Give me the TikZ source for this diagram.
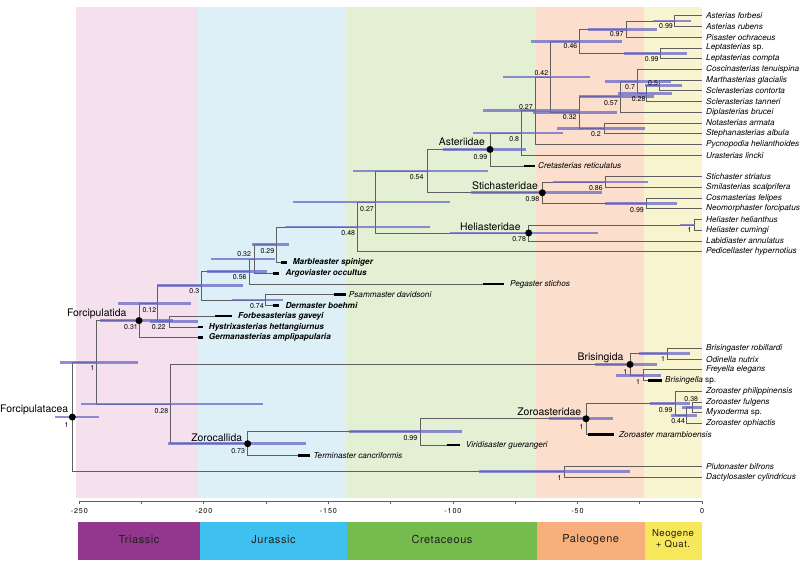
\documentclass[tikz,border=0pt]{standalone}
\usepackage{fontspec}
\setmainfont{TeX Gyre Heros}
\newfontfamily\axfont[LetterSpace=12]{TeX Gyre Heros}
\newfontfamily\perfont[LetterSpace=5]{TeX Gyre Heros}
\usetikzlibrary{calc}
\definecolor{bTri}{RGB}{245,225,238}
\definecolor{bJur}{RGB}{221,239,247}
\definecolor{bCre}{RGB}{227,240,212}
\definecolor{bPal}{RGB}{252,222,204}
\definecolor{bNeo}{RGB}{249,244,208}
\definecolor{pTri}{RGB}{147,54,142}
\definecolor{pJur}{RGB}{62,193,238}
\definecolor{pCre}{RGB}{117,187,78}
\definecolor{pPal}{RGB}{247,176,123}
\definecolor{pNeo}{RGB}{246,232,90}
\definecolor{linec}{RGB}{95,95,95}
\definecolor{hpdc}{RGB}{105,105,200}
\newcommand\tipf{\fontsize{8.2}{9}\selectfont\itshape}
\newcommand\ftipf{\fontsize{8.2}{9}\selectfont\bfseries\itshape}
\newcommand\nlf{\fontsize{7}{8}\selectfont}
\newcommand\cladef{\fontsize{10.4}{12}\selectfont}
\tikzset{
  br/.style={draw=linec, line width=0.8pt},
  hpd/.style={draw=hpdc, line width=2.8pt, draw opacity=0.75},
  fos/.style={draw=black, line width=2.6pt},
  tip/.style={anchor=west, inner sep=0pt, font=\tipf},
  ftip/.style={anchor=west, inner sep=0pt, font=\ftipf},
  nl/.style={anchor=east, inner sep=0pt, font=\nlf},
  clade/.style={inner sep=0pt, font=\cladef},
  dot/.style={circle, fill=black, inner sep=0pt, minimum size=7pt},
  axl/.style={inner sep=0pt, font=\fontsize{7.2}{8}\axfont},
  perl/.style={inner sep=0pt, align=center, font=\fontsize{11}{11.5}\perfont, text=black!88},
}
\begin{document}
\begin{tikzpicture}[x=1pt,y=-1pt]
\useasboundingbox (0,0) rectangle (800,560);
% period bands
\fill[bTri] (76,7) rectangle (197.5,498);
\fill[bJur] (197.5,7) rectangle (346,498);
\fill[bCre] (346,7) rectangle (536,498);
\fill[bPal] (536,7) rectangle (643.5,498);
\fill[bNeo] (643.5,7) rectangle (702,498);
% period boxes
\fill[pTri] (78,522) rectangle (200,560);
\fill[pJur] (200,522) rectangle (347,560);
\fill[pCre] (347,522) rectangle (537,560);
\fill[pPal] (537,522) rectangle (644.5,560);
\fill[pNeo] (644.5,522) rectangle (702,560);
\node[perl] (perTri) at (139,539.5) {Triassic};
\node[perl] (perJur) at (273.5,539.5) {Jurassic};
\node[perl] (perCre) at (442,539.5) {Cretaceous};
\node[perl] (perPal) at (590.7,539.5) {Paleogene};
\node[perl, font=\fontsize{9.6}{11}\perfont] (perNeo) at (673,539) {Neogene\\+ Quat.};
% axis
\draw[linec, line width=0.8pt] (79.3,501) -- (702,501);
\foreach \k in {0,...,10} \draw[linec, line width=0.8pt] ({702-62.27*\k},501) -- ++(0,3);
\foreach \t in {250,200,150,100,50} \node[axl] (ax\t) at ({702-2.4908*\t},510.5) {-\t};
\node[axl] (ax0) at (702,510.5) {0};

% tips (extant)
\coordinate (t1) at (702,15.7);
\coordinate (t2) at (702,26.4);
\coordinate (t3) at (702,37.2);
\coordinate (t4) at (702,47.9);
\coordinate (t5) at (702,58.6);
\coordinate (t6) at (702,69.4);
\coordinate (t7) at (702,80.1);
\coordinate (t8) at (702,90.8);
\coordinate (t9) at (702,101.5);
\coordinate (t10) at (702,112.3);
\coordinate (t11) at (702,123.0);
\coordinate (t12) at (702,133.7);
\coordinate (t13) at (702,144.5);
\coordinate (t14) at (702,155.2);
\coordinate (t16) at (702,176.7);
\coordinate (t17) at (702,187.4);
\coordinate (t18) at (702,198.1);
\coordinate (t19) at (702,208.8);
\coordinate (t20) at (702,219.6);
\coordinate (t21) at (702,230.3);
\coordinate (t22) at (702,241.0);
\coordinate (t23) at (702,251.8);
\coordinate (t32) at (702,348.3);
\coordinate (t33) at (702,359.1);
\coordinate (t34) at (702,369.8);
\coordinate (t36) at (702,391.3);
\coordinate (t37) at (702,402.0);
\coordinate (t38) at (702,412.7);
\coordinate (t39) at (702,423.4);
\coordinate (t43) at (702,466.4);
\coordinate (t44) at (702,477.1);
% fossil tips (bar start / end)
\coordinate (f15s) at (523.5,165.9); \coordinate (f15e) at (535,165.9);
\coordinate (f24s) at (281,262.5);   \coordinate (f24e) at (287.3,262.5);
\coordinate (f25s) at (273.3,273.2); \coordinate (f25e) at (279.3,273.2);
\coordinate (f26s) at (483.3,284.0); \coordinate (f26e) at (504,284.0);
\coordinate (f27s) at (334.3,294.7); \coordinate (f27e) at (346,294.7);
\coordinate (f28s) at (273.3,305.4); \coordinate (f28e) at (279.3,305.4);
\coordinate (f29s) at (215.3,316.1); \coordinate (f29e) at (231.7,316.1);
\coordinate (f30s) at (198.3,326.9); \coordinate (f30e) at (203.3,326.9);
\coordinate (f31s) at (198.3,337.6); \coordinate (f31e) at (203.3,337.6);
\coordinate (f35s) at (648.3,380.5); \coordinate (f35e) at (661.7,380.5);
\coordinate (f40s) at (588.3,434.2); \coordinate (f40e) at (614,434.2);
\coordinate (f41s) at (446.7,444.9); \coordinate (f41e) at (460,444.9);
\coordinate (f42s) at (298.3,455.6); \coordinate (f42e) at (310,455.6);

% internal nodes
\coordinate (nA1) at (674.3,21.05);
\coordinate (nA2) at (626,29.13);
\coordinate (nA3) at (660.3,53.25);
\coordinate (n046) at (579.3,41.19);
\coordinate (n05) at (659.3,85.45);
\coordinate (n028) at (646.7,93.48);
\coordinate (n07) at (637.3,81.44);
\coordinate (n057) at (620.7,96.87);
\coordinate (n02) at (604,128.35);
\coordinate (n032u) at (579,112.61);
\coordinate (n042) at (550,76.9);
\coordinate (n027u) at (535.7,110.7);
\coordinate (n08) at (521.3,132.95);
\coordinate (nAst) at (490,149.43);
\coordinate (n086) at (605.7,182.05);
\coordinate (n099s) at (646,203.45);
\coordinate (nSti) at (542.3,192.75);
\coordinate (n054) at (427,171.09);
\coordinate (nH1) at (694,224.95);
\coordinate (nHel) at (528.7,232.98);
\coordinate (n027l) at (375.7,202.04);
\coordinate (n048) at (357,226.92);
\coordinate (n029) at (276.7,244.71);
\coordinate (n032l) at (254.3,258.96);
\coordinate (n056) at (249.3,271.48);
\coordinate (n074) at (265.3,300.05);
\coordinate (n03) at (201.7,285.77);
\coordinate (n022) at (169,321.5);
\coordinate (n012) at (157,303.64);
\coordinate (nFor) at (139,320.62);
\coordinate (nB1) at (667.3,353.7);
\coordinate (nB2) at (643.3,375.15);
\coordinate (nBri) at (630,364.43);
\coordinate (n038) at (692.3,407.35);
\coordinate (n044) at (686.7,415.38);
\coordinate (n099q) at (675,403.34);
\coordinate (nZor) at (586,418.77);
\coordinate (n099z) at (420,431.84);
\coordinate (nZcal) at (247.7,443.72);
\coordinate (n028l) at (170.7,404.08);
\coordinate (nX1) at (96.7,362.35);
\coordinate (nP) at (564.3,471.75);
\coordinate (nRoot) at (72.3,417.05);

% branches
\foreach \p/\c in {nRoot/nX1, nRoot/nP, nX1/nFor, nX1/n028l, nFor/n012, nFor/f31s,
  n012/n03, n012/n022, n022/f29s, n022/f30s, n03/n056, n03/n074, n056/n032l, n056/f26s,
  n032l/n029, n032l/f25s, n029/n048, n029/f24s, n048/n027l, n048/t23, n027l/n054, n027l/nHel,
  n054/nAst, n054/nSti, nAst/n08, nAst/f15s, n08/n027u, n08/t14, n027u/n042, n027u/t13,
  n042/n046, n042/n032u, n046/nA2, n046/nA3, nA2/nA1, nA2/t3, nA1/t1, nA1/t2, nA3/t4, nA3/t5,
  n032u/n057, n032u/n02, n057/n07, n057/t10, n07/t6, n07/n028, n028/n05, n028/t9, n05/t7, n05/t8,
  n02/t11, n02/t12, nSti/n086, nSti/n099s, n086/t16, n086/t17, n099s/t18, n099s/t19,
  nHel/nH1, nHel/t22, nH1/t20, nH1/t21, n074/f27s, n074/f28s,
  n028l/nBri, n028l/nZcal, nBri/nB1, nBri/nB2, nB1/t32, nB1/t33, nB2/t34, nB2/f35s,
  nZcal/n099z, nZcal/f42s, n099z/nZor, n099z/f41s, nZor/n099q, nZor/f40s,
  n099q/t36, n099q/n044, n044/n038, n044/t39, n038/t37, n038/t38, nP/t43, nP/t44}
  \draw[br] (\p) |- (\c);

% HPD bars
\draw[hpd] (652.7,21.05) -- (691,21.05);
\draw[hpd] (588.3,29.13) -- (657.3,29.13);
\draw[hpd] (624.3,53.25) -- (686.7,53.25);
\draw[hpd] (531,41.19) -- (621.7,41.19);
\draw[hpd] (645,85.45) -- (681.7,85.45);
\draw[hpd] (618,93.48) -- (671.7,93.48);
\draw[hpd] (605,81.44) -- (671,81.44);
\draw[hpd] (579,96.87) -- (654,96.87);
\draw[hpd] (556.7,128.35) -- (645,128.35);
\draw[hpd] (533,112.61) -- (617,112.61);
\draw[hpd] (502.7,76.9) -- (590,76.9);
\draw[hpd] (483.3,110.7) -- (580,110.7);
\draw[hpd] (473.3,132.95) -- (563.3,132.95);
\draw[hpd] (443.3,149.43) -- (525.7,149.43);
\draw[hpd] (553.3,182.05) -- (647.7,182.05);
\draw[hpd] (605,203.45) -- (676.7,203.45);
\draw[hpd] (471,192.75) -- (601.7,192.75);
\draw[hpd] (353.3,171.09) -- (488.3,171.09);
\draw[hpd] (680,224.95) -- (695,224.95);
\draw[hpd] (450,232.98) -- (597.7,232.98);
\draw[hpd] (293.3,202.04) -- (450,202.04);
\draw[hpd] (285,226.92) -- (430,226.92);
\draw[hpd] (251.7,244.71) -- (289.3,244.71);
\draw[hpd] (211,258.96) -- (275,258.96);
\draw[hpd] (206.7,271.48) -- (266.7,271.48);
\draw[hpd] (231.7,300.05) -- (282.7,300.05);
\draw[hpd] (156.7,285.77) -- (242.7,285.77);
\draw[hpd] (150,321.5) -- (197.7,321.5);
\draw[hpd] (118.3,303.64) -- (190.7,303.64);
\draw[hpd] (100,320.62) -- (173,320.62);
\draw[hpd] (639,353.7) -- (690,353.7);
\draw[hpd] (616,375.15) -- (661,375.15);
\draw[hpd] (595,364.43) -- (657.3,364.43);
\draw[hpd] (681.7,407.35) -- (701.7,407.35);
\draw[hpd] (670.7,415.38) -- (696.7,415.38);
\draw[hpd] (650,403.34) -- (690,403.34);
\draw[hpd] (549,418.77) -- (613.3,418.77);
\draw[hpd] (349,431.84) -- (462,431.84);
\draw[hpd] (168.3,443.72) -- (305.7,443.72);
\draw[hpd] (81,404.08) -- (263.3,404.08);
\draw[hpd] (60,362.35) -- (138.3,362.35);
\draw[hpd] (479,471.75) -- (630,471.75);
\draw[hpd] (55,417.05) -- (99.3,417.05);

% fossil bars
\foreach \f in {f15,f24,f25,f26,f27,f28,f29,f30,f31,f35,f40,f41,f42}
  \draw[fos] (\f s) -- (\f e);

% dots
\foreach \d in {nAst,nSti,nHel,nFor,nBri,nZor,nZcal,nRoot}
  \node[dot] (dot\d) at (\d) {};

% node labels (posterior)
\node[nl] (lA1) at ($(nA1)+(-1.3,5.5)$) {0.99};
\node[nl] (lA2) at ($(nA2)+(-2.3,5.2)$) {0.97};
\node[nl] (lA3) at ($(nA3)+(-1.5,5.7)$) {0.99};
\node[nl] (l046) at ($(n046)+(-1.8,5.3)$) {0.46};
\node[nl] (l05) at ($(n05)+(-1.2,-2.8)$) {0.5};
\node[nl] (l028) at ($(n028)+(-1,5.6)$) {0.28};
\node[nl] (l07) at ($(n07)+(-2.2,5.9)$) {0.7};
\node[nl] (l057) at ($(n057)+(-2.8,5.8)$) {0.57};
\node[nl] (l02) at ($(n02)+(-3,5.7)$) {0.2};
\node[nl] (l032u) at ($(n032u)+(-2.2,4.8)$) {0.32};
\node[nl] (l042) at ($(n042)+(-1.6,-4.3)$) {0.42};
\node[nl] (l027u) at ($(n027u)+(-2.8,-4.1)$) {0.27};
\node[nl] (l08) at ($(n08)+(-2,5.8)$) {0.8};
\node[nl] (lAst) at ($(nAst)+(-2.6,7.3)$) {0.99};
\node[nl] (l086) at ($(n086)+(-2.8,5.7)$) {0.86};
\node[nl] (l099s) at ($(n099s)+(-2,6.5)$) {0.99};
\node[nl] (lSti) at ($(nSti)+(-2.9,6.6)$) {0.98};
\node[nl] (l054) at ($(n054)+(-3.3,6.2)$) {0.54};
\node[nl] (lH1) at ($(nH1)+(-2.3,5.4)$) {1};
\node[nl] (lHel) at ($(nHel)+(-2.6,6.3)$) {0.78};
\node[nl] (l027l) at ($(n027l)+(-1.7,7)$) {0.27};
\node[nl] (l048) at ($(n048)+(-1.7,6.4)$) {0.48};
\node[nl] (l029) at ($(n029)+(-2.3,6.3)$) {0.29};
\node[nl] (l032l) at ($(n032l)+(-3.1,-4.6)$) {0.32};
\node[nl] (l056) at ($(n056)+(-2.5,5.8)$) {0.56};
\node[nl] (l074) at ($(n074)+(-1.4,5.7)$) {0.74};
\node[nl] (l03) at ($(n03)+(-2.3,5.2)$) {0.3};
\node[nl] (l022) at ($(n022)+(-3.2,5.8)$) {0.22};
\node[nl] (l012) at ($(n012)+(-0.6,6.4)$) {0.12};
\node[nl] (lFor) at ($(nFor)+(-1,6.8)$) {0.31};
\node[nl] (lX1) at ($(nX1)+(-2.2,6)$) {1};
\node[nl] (l028l) at ($(n028l)+(-2.3,7)$) {0.28};
\node[nl] (lBri) at ($(nBri)+(-2.6,7.3)$) {1};
\node[nl] (lB1) at ($(nB1)+(-2.2,5.6)$) {1};
\node[nl] (lB2) at ($(nB2)+(-3.2,6.5)$) {1};
\node[nl] (lZcal) at ($(nZcal)+(-2.6,7.3)$) {0.73};
\node[nl] (l099z) at ($(n099z)+(-2.6,5.9)$) {0.99};
\node[nl] (lZor) at ($(nZor)+(-2.3,7.9)$) {1};
\node[nl] (l099q) at ($(n099q)+(-2.3,6.7)$) {0.99};
\node[nl] (l044) at ($(n044)+(-1.6,5.3)$) {0.44};
\node[nl, anchor=center] (l038) at ($(n038)+(-1,-8)$) {0.38};
\node[nl] (lP) at ($(nP)+(-2.5,6.5)$) {1};
\node[nl] (lRoot) at ($(nRoot)+(-3.5,8)$) {1};

% clade names
\node[clade] (cAst) at (462,141.3) {Asteriidae};
\node[clade] (cSti) at (505,186) {Stichasteridae};
\node[clade] (cHel) at (490.3,226.7) {Heliasteridae};
\node[clade] (cFor) at (96.7,314) {Forcipulatida};
\node[clade] (cBri) at (600.5,358.3) {Brisingida};
\node[clade] (cZor) at (549.2,411.7) {Zoroasteridae};
\node[clade] (cZcal) at (216.7,437.7) {Zorocallida};
\node[clade] (cRoot) at (34.2,410) {Forcipulatacea};

% tip labels
\node[tip] (L1) at (706,15.7) {Asterias forbesi};
\node[tip] (L2) at (706,26.4) {Asterias rubens};
\node[tip] (L3) at (706,37.2) {Pisaster ochraceus};
\node[tip] (L4) at (706,47.9) {Leptasterias \textup{sp.}};
\node[tip] (L5) at (706,58.6) {Leptasterias compta};
\node[tip] (L6) at (706,69.4) {Coscinasterias tenuispina};
\node[tip] (L7) at (706,80.1) {Marthasterias glacialis};
\node[tip] (L8) at (706,90.8) {Sclerasterias contorta};
\node[tip] (L9) at (706,101.5) {Sclerasterias tanneri};
\node[tip] (L10) at (706,112.3) {Diplasterias brucei};
\node[tip] (L11) at (706,123.0) {Notasterias armata};
\node[tip] (L12) at (706,133.7) {Stephanasterias albula};
\node[tip] (L13) at (706,144.5) {Pycnopodia helianthoides};
\node[tip] (L14) at (706,155.2) {Urasterias lincki};
\node[tip] (L15) at (538,165.9) {Cretasterias reticulatus};
\node[tip] (L16) at (706,176.7) {Stichaster striatus};
\node[tip] (L17) at (706,187.4) {Smilasterias scalprifera};
\node[tip] (L18) at (706,198.1) {Cosmasterias felipes};
\node[tip] (L19) at (706,208.8) {Neomorphaster forcipatus};
\node[tip] (L20) at (706,219.6) {Heliaster helianthus};
\node[tip] (L21) at (706,230.3) {Heliaster cumingi};
\node[tip] (L22) at (706,241.0) {Labidiaster annulatus};
\node[tip] (L23) at (706,251.8) {Pedicellaster hypernotius};
\node[ftip] (L24) at (292.7,262.5) {Marbleaster spiniger};
\node[ftip] (L25) at (285.3,273.2) {Argoviaster occultus};
\node[tip] (L26) at (510,284.0) {Pegaster stichos};
\node[tip] (L27) at (348.7,294.7) {Psammaster davidsoni};
\node[ftip] (L28) at (285.3,305.4) {Dermaster boehmi};
\node[ftip] (L29) at (238,316.1) {Forbesasterias gaveyi};
\node[ftip] (L30) at (208.7,326.9) {Hystrixasterias hettangiurnus};
\node[ftip] (L31) at (208.7,337.6) {Germanasterias amplipapularia};
\node[tip] (L32) at (706,348.3) {Brisingaster robillardi};
\node[tip] (L33) at (706,359.1) {Odinella nutrix};
\node[tip] (L34) at (706,369.8) {Freyella elegans};
\node[tip] (L35) at (665,380.5) {Brisingella \textup{sp.}};
\node[tip] (L36) at (706,391.3) {Zoroaster philippinensis};
\node[tip] (L37) at (706,402.0) {Zoroaster fulgens};
\node[tip] (L38) at (706,412.7) {Myxoderma \textup{sp.}};
\node[tip] (L39) at (706,423.4) {Zoroaster ophiactis};
\node[tip] (L40) at (619,434.2) {Zoroaster marambioensis};
\node[tip] (L41) at (465.7,444.9) {Viridisaster guerangeri};
\node[tip] (L42) at (313.3,455.6) {Terminaster cancriformis};
\node[tip] (L43) at (706,466.4) {Plutonaster bifrons};
\node[tip] (L44) at (706,477.1) {Dactylosaster cylindricus};
\end{tikzpicture}
\end{document}
